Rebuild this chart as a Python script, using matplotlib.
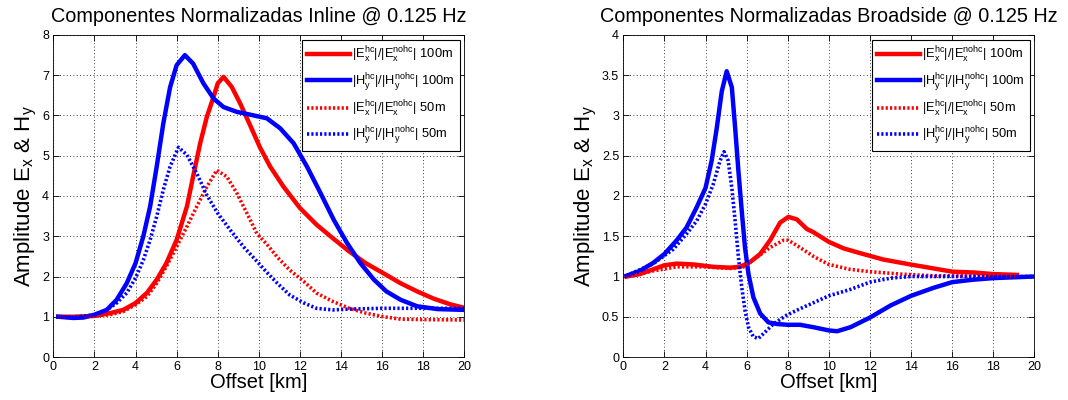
import matplotlib
matplotlib.use("Agg")
import matplotlib.pyplot as plt

plt.rcParams['font.family'] = ['Liberation Sans', 'DejaVu Sans']
plt.rcParams['mathtext.default'] = 'regular'

# ---------------- Inline data ----------------
x_in_ex100 = [0.24, 1.0, 2.0, 2.76, 3.4, 4.0, 4.55, 5.03, 5.5, 6.0, 6.5, 6.8, 7.14, 7.47, 7.8, 8.0, 8.28,
              8.68, 9.09, 9.58, 10.06, 10.55, 11.2, 12.0, 12.8, 13.6, 14.4, 15.2, 16.06, 16.9, 17.7, 18.5, 19.3, 20.0]
y_in_ex100 = [1.0, 1.0, 1.02, 1.09, 1.17, 1.34, 1.59, 1.92, 2.33, 2.91, 3.74, 4.48, 5.3, 5.97, 6.47, 6.8, 6.96,
              6.71, 6.3, 5.75, 5.2, 4.73, 4.23, 3.7, 3.29, 2.95, 2.62, 2.33, 2.08, 1.83, 1.63, 1.45, 1.31, 1.22]

x_in_hy100 = [0.24, 0.97, 1.46, 2.0, 2.6, 3.08, 3.57, 4.0, 4.38, 4.71, 5.03, 5.35, 5.68, 6.0, 6.4, 6.8, 7.3, 7.8,
              8.28, 8.93, 9.58, 10.39, 11.04, 11.69, 12.34, 13.0, 13.64, 14.29, 14.94, 15.6, 16.2, 16.9, 17.7, 18.7, 20.0]
y_in_hy100 = [1.0, 0.97, 0.98, 1.05, 1.17, 1.42, 1.83, 2.33, 3.0, 3.74, 4.73, 5.8, 6.7, 7.25, 7.5, 7.29, 6.8, 6.42,
              6.21, 6.09, 6.02, 5.93, 5.68, 5.31, 4.73, 4.07, 3.41, 2.83, 2.33, 1.92, 1.63, 1.42, 1.26, 1.19, 1.17]

x_in_ex50 = [0.24, 1.0, 2.0, 2.76, 3.4, 4.0, 4.55, 5.03, 5.5, 6.0, 6.5, 6.98, 7.47, 7.95, 8.44, 8.93, 9.42, 9.9,
             10.39, 10.9, 11.5, 12.2, 12.8, 13.6, 14.4, 15.2, 16.06, 16.9, 18.0, 20.0]
y_in_ex50 = [1.0, 1.0, 1.02, 1.05, 1.13, 1.3, 1.5, 1.83, 2.25, 2.74, 3.24, 3.74, 4.23, 4.64, 4.48, 4.07, 3.57, 3.07,
             2.8, 2.48, 2.16, 1.87, 1.59, 1.38, 1.21, 1.09, 1.0, 0.94, 0.93, 0.92]

x_in_hy50 = [0.24, 1.0, 2.0, 2.6, 3.08, 3.57, 4.0, 4.38, 4.71, 5.03, 5.35, 5.68, 6.09, 6.5, 6.98, 7.47, 8.0, 8.6,
             9.25, 9.9, 10.39, 10.9, 11.5, 12.2, 12.8, 13.6, 14.4, 16.0, 18.0, 20.0]
y_in_hy50 = [1.0, 0.98, 1.05, 1.17, 1.34, 1.59, 1.96, 2.41, 2.91, 3.49, 4.15, 4.73, 5.21, 5.02, 4.56, 4.02, 3.57, 3.16,
             2.74, 2.38, 2.1, 1.83, 1.54, 1.34, 1.21, 1.17, 1.19, 1.21, 1.21, 1.21]

# ---------------- Broadside data ----------------
x_bs_ex100 = [0.16, 0.81, 1.46, 2.0, 2.6, 3.4, 4.38, 5.2, 5.68, 6.17, 6.66, 7.14, 7.63, 8.03, 8.44, 8.93, 9.25,
              10.0, 10.71, 11.52, 12.66, 13.95, 15.1, 16.0, 17.03, 18.0, 19.15]
y_bs_ex100 = [1.0, 1.03, 1.09, 1.14, 1.16, 1.15, 1.12, 1.11, 1.12, 1.18, 1.28, 1.45, 1.67, 1.74, 1.71, 1.59, 1.55,
              1.43, 1.35, 1.29, 1.21, 1.15, 1.1, 1.06, 1.05, 1.03, 1.02]

x_bs_hy100 = [0.16, 0.81, 1.46, 2.0, 2.6, 3.08, 3.57, 4.0, 4.3, 4.55, 4.79, 5.03, 5.28, 5.44, 5.6, 5.76, 5.92,
              6.09, 6.33, 6.66, 7.06, 7.47, 8.0, 8.6, 9.25, 10.0, 10.4, 11.05, 12.0, 13.0, 14.0, 15.1, 16.0, 17.0, 18.0, 20.0]
y_bs_hy100 = [1.01, 1.07, 1.17, 1.28, 1.45, 1.61, 1.86, 2.1, 2.44, 2.85, 3.3, 3.55, 3.35, 2.85, 2.31, 1.82, 1.36,
              1.03, 0.74, 0.54, 0.43, 0.41, 0.4, 0.4, 0.37, 0.33, 0.32, 0.37, 0.49, 0.64, 0.76, 0.86, 0.93, 0.96, 0.98, 1.0]

x_bs_ex50 = [0.16, 1.46, 2.6, 3.9, 5.2, 5.85, 6.5, 7.14, 7.79, 8.03, 8.6, 9.25, 10.0, 11.0, 12.0, 13.5, 15.0, 19.15]
y_bs_ex50 = [1.0, 1.07, 1.12, 1.12, 1.1, 1.12, 1.24, 1.36, 1.45, 1.45, 1.36, 1.25, 1.15, 1.09, 1.06, 1.03, 1.01, 1.0]

x_bs_hy50 = [0.16, 1.46, 2.44, 3.08, 3.57, 4.0, 4.38, 4.71, 4.9, 5.1, 5.28, 5.44, 5.6, 5.76, 5.92, 6.09, 6.33, 6.57,
             6.9, 7.3, 7.95, 8.6, 10.0, 11.05, 12.0, 13.0, 14.0, 16.0, 18.0, 20.0]
y_bs_hy50 = [1.01, 1.16, 1.34, 1.53, 1.69, 1.9, 2.15, 2.44, 2.55, 2.44, 2.1, 1.69, 1.24, 0.87, 0.58, 0.37, 0.25, 0.23,
             0.31, 0.41, 0.52, 0.6, 0.76, 0.84, 0.93, 0.98, 1.0, 1.0, 1.0, 1.0]

labels = ['|E$_x^{hc}$|/|E$_x^{nohc}$| 100m',
          '|H$_y^{hc}$|/|H$_y^{nohc}$| 100m',
          '|E$_x^{hc}$|/|E$_x^{nohc}$| 50m',
          '|H$_y^{hc}$|/|H$_y^{nohc}$| 50m']

fig = plt.figure(figsize=(10.68, 4.0), dpi=100)
ax1 = fig.add_axes([0.0499, 0.1075, 0.385, 0.805])
ax2 = fig.add_axes([0.5836, 0.1075, 0.385, 0.805])

dot = (0, (0.6, 0.6))

def draw(ax, series, ylim, yticks, yticklabels, title):
    (xa, ya), (xb, yb), (xc, yc), (xd, yd) = series
    ax.plot(xa, ya, color='#ff0000', lw=3.2, label=labels[0], solid_joinstyle='round')
    ax.plot(xb, yb, color='#0000ff', lw=3.2, label=labels[1], solid_joinstyle='round')
    ax.plot(xc, yc, color='#ff0000', lw=2.6, linestyle=dot, label=labels[2])
    ax.plot(xd, yd, color='#0000ff', lw=2.6, linestyle=dot, label=labels[3])
    ax.set_xlim(0, 20)
    ax.set_ylim(*ylim)
    ax.set_xticks(range(0, 21, 2))
    ax.set_yticks(yticks)
    ax.set_yticklabels(yticklabels)
    ax.tick_params(direction='in', top=True, right=True, labelsize=9, length=4, width=0.6, pad=3)
    ax.grid(True, color='black', linestyle=(0, (1, 3)), linewidth=0.6)
    for s in ax.spines.values():
        s.set_linewidth(0.6)
    ax.set_xlabel('Offset [km]', fontsize=14.5, labelpad=0)
    ax.set_ylabel('Amplitude E$_x$ & H$_y$', fontsize=16, labelpad=2)
    ax.set_title(title, fontsize=14.3, pad=9)
    leg = ax.legend(loc='upper right', fontsize=9.3, handlelength=3.3, handletextpad=0.2,
                    borderpad=0.4, labelspacing=0.45, fancybox=False, framealpha=1,
                    borderaxespad=0.35)
    leg.get_frame().set_edgecolor('black')
    leg.get_frame().set_linewidth(0.8)

draw(ax1, [(x_in_ex100, y_in_ex100), (x_in_hy100, y_in_hy100), (x_in_ex50, y_in_ex50), (x_in_hy50, y_in_hy50)],
     (0, 8), list(range(0, 9)), [str(v) for v in range(0, 9)],
     'Componentes Normalizadas Inline @ 0.125 Hz')
yt = [0, 0.5, 1, 1.5, 2, 2.5, 3, 3.5, 4]
draw(ax2, [(x_bs_ex100, y_bs_ex100), (x_bs_hy100, y_bs_hy100), (x_bs_ex50, y_bs_ex50), (x_bs_hy50, y_bs_hy50)],
     (0, 4), yt, ['%g' % v for v in yt],
     'Componentes Normalizadas Broadside @ 0.125 Hz')

fig.savefig('out.png', dpi=100)
